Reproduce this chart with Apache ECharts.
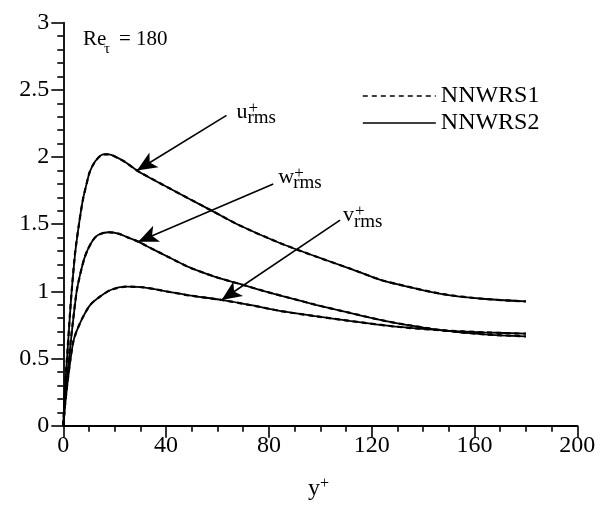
<!DOCTYPE html>
<html>
<head>
<meta charset="utf-8">
<script src="https://cdn.jsdelivr.net/npm/echarts@6/dist/echarts.min.js"></script>
<style>
  html, body { margin: 0; padding: 0; background: #fff; }
  #chart { width: 602px; height: 508px; }
</style>
</head>
<body>
<div id="chart"></div>
<script>
// Turbulence intensities versus wall distance y+, Re_tau = 180
const xTicks = [0, 40, 80, 120, 160, 200];
const yTicks = [0, 0.5, 1, 1.5, 2, 2.5, 3];

// NNWRS2 (solid)
const uRms2 = [[0,0],[0.7,0.29],[1.7,0.57],[2.65,0.84],[3.25,1.0],[4.6,1.28],[6.1,1.5],[7.6,1.68],[9.05,1.8],[10.3,1.89],[12.5,1.97],[15.5,2.02],[17.4,2.02],[19.4,2.01],[24.3,1.96],[28.65,1.9],[34.2,1.84],[39.1,1.79],[48.9,1.69],[58.8,1.59],[68.7,1.49],[84.2,1.36],[98.2,1.26],[111.5,1.17],[122.8,1.09],[130.7,1.05],[147.5,0.98],[163,0.945],[180,0.925]];
const wRms2 = [[0,0],[0.7,0.2],[1.66,0.4],[2.65,0.58],[3.63,0.75],[5.2,1.0],[6.6,1.13],[8.1,1.24],[9.5,1.31],[11.5,1.38],[13.5,1.42],[17.4,1.44],[21.4,1.43],[25.3,1.4],[29.15,1.37],[34.2,1.32],[41.5,1.25],[48.9,1.18],[58.8,1.11],[68.7,1.055],[78.5,1.0],[91.3,0.935],[98.2,0.9],[111.5,0.84],[122.8,0.79],[130.7,0.76],[147.5,0.71],[164,0.68],[180,0.665]];
const vRms2 = [[0,0],[0.7,0.15],[1.66,0.32],[2.65,0.47],[3.83,0.62],[5.1,0.7],[7.67,0.81],[10.5,0.9],[14.2,0.96],[18.4,1.01],[24.3,1.035],[31.2,1.03],[41.5,0.995],[48.9,0.97],[61.6,0.936],[73.6,0.895],[84.2,0.855],[98.2,0.815],[111.5,0.78],[130.7,0.735],[147.5,0.71],[164,0.695],[180,0.685]];

// NNWRS1 (dashed) lies on the NNWRS2 curves
const uRms1 = [[0,0],[0.7,0.3],[1.7,0.58],[2.65,0.85],[3.25,1.0],[4.6,1.29],[6.1,1.5],[7.6,1.68],[9.05,1.8],[10.3,1.89],[12.5,1.97],[15.5,2.02],[17.4,2.02],[19.4,2.01],[24.3,1.96],[28.65,1.9],[34.2,1.84],[39.1,1.79],[48.9,1.69],[58.8,1.59],[68.7,1.49],[84.2,1.36],[98.2,1.26],[111.5,1.17],[122.8,1.09],[130.7,1.05],[147.5,0.98],[163,0.945],[180,0.925]];
const wRms1 = [[0,0],[0.7,0.2],[1.66,0.41],[2.65,0.59],[3.63,0.76],[5.2,1.0],[6.6,1.13],[8.1,1.24],[9.5,1.31],[11.5,1.38],[13.5,1.42],[17.4,1.44],[21.4,1.43],[25.3,1.4],[29.15,1.37],[34.2,1.32],[41.5,1.25],[48.9,1.18],[58.8,1.11],[68.7,1.055],[78.5,1.0],[91.3,0.935],[98.2,0.9],[111.5,0.84],[122.8,0.79],[130.7,0.76],[147.5,0.71],[164,0.68],[180,0.665]];
const vRms1 = [[0,0],[0.7,0.16],[1.66,0.33],[2.65,0.48],[3.83,0.62],[5.1,0.7],[7.67,0.81],[10.5,0.9],[14.2,0.96],[18.4,1.01],[24.3,1.035],[31.2,1.03],[41.5,0.995],[48.9,0.97],[61.6,0.936],[73.6,0.895],[84.2,0.855],[98.2,0.815],[111.5,0.78],[130.7,0.735],[147.5,0.71],[164,0.695],[180,0.685]];

// Annotation arrows: [tail, head] in data units
const arrowU = [[63.5, 2.31], [28.65, 1.9]];
const arrowW = [[81.7, 1.8], [29.15, 1.37]];
const arrowV = [[107.7, 1.53], [61.6, 0.936]];
// Annotation label anchors (left edge of letter, baseline)
const labelU = ['u', 67.4, 2.276];
const labelW = ['w', 83.6, 1.792];
const labelV = ['v', 108.8, 1.509];

const FONT = '"Liberation Serif", "DejaVu Serif", serif';
const chart = echarts.init(document.getElementById('chart'), null, { renderer: 'canvas' });

function curve(name, data, dashed) {
  return {
    name: name,
    type: 'line',
    data: data,
    symbol: 'none',
    smooth: 0.25,
    animation: false,
    silent: true,
    lineStyle: { color: '#000', width: dashed ? 2.2 : 1.8, type: dashed ? [5, 4] : 'solid' },
    itemStyle: { color: '#000' },
    z: dashed ? 3 : 2
  };
}

function arrow(a) {
  return [{ coord: a[0] }, { coord: a[1] }];
}

chart.setOption({
  backgroundColor: '#fff',
  animation: false,
  grid: { left: 63.3, right: 24.7, top: 22.7, bottom: 82.3 },
  legend: {
    data: ['NNWRS1', 'NNWRS2'],
    orient: 'vertical',
    left: 357,
    top: 79,
    itemWidth: 73,
    itemHeight: 14,
    itemGap: 3,
    selectedMode: false,
    itemStyle: { opacity: 0, color: 'rgba(0,0,0,0)', borderColor: 'rgba(0,0,0,0)', borderWidth: 0 },
    lineStyle: { width: 1.6 },
    textStyle: { fontFamily: FONT, fontSize: 24, color: '#000', lineHeight: 24 }
  },
  xAxis: {
    type: 'value',
    min: xTicks[0],
    max: xTicks[xTicks.length - 1],
    interval: xTicks[1] - xTicks[0],
    splitLine: { show: false },
    axisLine: { lineStyle: { color: '#000', width: 1.8 } },
    axisTick: { show: true, length: 12, lineStyle: { color: '#000', width: 1.6 } },
    minorTick: { show: true, splitNumber: 4, length: 6, lineStyle: { color: '#000', width: 1.6 } },
    axisLabel: { fontFamily: FONT, fontSize: 24, color: '#000', margin: 8 }
  },
  yAxis: {
    type: 'value',
    min: yTicks[0],
    max: yTicks[yTicks.length - 1],
    interval: yTicks[1] - yTicks[0],
    splitLine: { show: false },
    axisLine: { show: true, lineStyle: { color: '#000', width: 1.8 } },
    axisTick: { show: true, length: 12, lineStyle: { color: '#000', width: 1.6 } },
    minorTick: { show: true, splitNumber: 5, length: 6, lineStyle: { color: '#000', width: 1.6 } },
    axisLabel: { fontFamily: FONT, fontSize: 24, color: '#000', margin: 14 }
  },
  series: [
    curve('NNWRS2', uRms2, false),
    curve('NNWRS2', wRms2, false),
    curve('NNWRS2', vRms2, false),
    curve('NNWRS1', uRms1, true),
    curve('NNWRS1', wRms1, true),
    curve('NNWRS1', vRms1, true),
    {
      name: 'arrows',
      type: 'line',
      data: [],
      silent: true,
      animation: false,
      markLine: {
        silent: true,
        animation: false,
        symbol: ['none', 'arrow'],
        symbolSize: [13, 20],
        label: { show: false },
        lineStyle: { color: '#000', width: 1.6, type: 'solid' },
        itemStyle: { color: '#000' },
        emphasis: { disabled: true },
        data: [arrow(arrowU), arrow(arrowW), arrow(arrowV)]
      }
    }
  ]
});

// Text placed by its alphabetic baseline (canvas 'middle' sits ~0.34em above it)
function txt(str, x, baseline, size) {
  return {
    type: 'text', x: x, y: baseline - 0.34 * size, silent: true, z: 10,
    style: { text: str, font: size + 'px ' + FONT, fill: '#000', verticalAlign: 'middle', align: 'left' }
  };
}

function rmsLabel(spec) {
  const p = chart.convertToPixel({ gridIndex: 0 }, [spec[1], spec[2]]);
  const letterW = spec[0] === 'w' ? 15 : 11;
  return [
    txt(spec[0], p[0], p[1], 22),
    txt('+', p[0] + letterW + 1, p[1] - 6, 17),
    txt('rms', p[0] + letterW, p[1] + 5, 19)
  ];
}

const texts = []
  .concat(rmsLabel(labelU))
  .concat(rmsLabel(labelW))
  .concat(rmsLabel(labelV))
  .concat([
    txt('Re', 83, 47, 21),
    txt('τ', 104, 54, 15),
    txt('= 180', 119, 47, 21),
    txt('y', 308, 497, 24),
    txt('+', 320, 489, 16)
  ]);

chart.setOption({ graphic: texts });
</script>
</body>
</html>
